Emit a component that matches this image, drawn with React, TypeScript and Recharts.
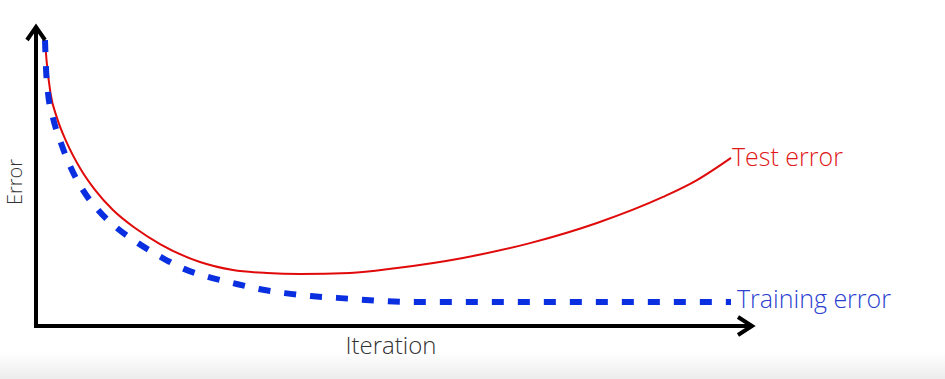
import React from 'react';
import { LineChart, Line, XAxis, YAxis, ReferenceDot } from 'recharts';

// Iteration (0-100 scale) and error (0-100 scale)
const testIter = [1.26, 1.47, 2.03, 2.94, 4.34, 6.16, 8.26, 10.78, 13.87, 17.37, 22.97, 27.59, 32.35, 36.97, 43.98, 50.56, 59.8, 69.19, 78.57, 87.82, 92.58, 97.34];
const testErr = [96.6, 89.9, 78.7, 70.3, 61.8, 53.4, 46.0, 39.2, 33.1, 27.7, 21.6, 18.9, 17.9, 17.6, 17.9, 19.6, 23.0, 28.0, 34.8, 43.6, 49.3, 56.8];

const trainIter = [1.26, 1.4, 1.68, 2.38, 3.5, 4.9, 6.58, 8.68, 11.34, 14.29, 17.51, 20.73, 24.09, 27.59, 31.23, 34.87, 38.52, 42.16, 52.8, 64.57, 97.34];
const trainErr = [96.6, 87.2, 78.7, 70.3, 61.8, 53.4, 45.9, 39.2, 33.1, 28.0, 23.3, 19.3, 16.6, 14.5, 12.5, 11.1, 10.1, 9.5, 8.1, 8.1, 8.1];

const seriesNames = ['Test error', 'Training error'];
const xTitle = 'Iteration';
const yTitle = 'Error';

const testData = testIter.map((x, i) => ({ iter: x, err: testErr[i] }));
const trainData = trainIter.map((x, i) => ({ iter: x, err: trainErr[i] }));

const FONT = '"Open Sans", Lato, sans-serif';
const RED = '#e00a0a';
const BLUE = '#0a2fe0';

const endLabel = (text: string, color: string, dx: number, dy: number, lastIndex: number) => (props: any) => {
  if (props.index !== lastIndex) return null;
  return (
    <text x={props.x + dx} y={props.y + dy} fill={color} fontSize={25} fontFamily={FONT} fontWeight={300}>
      {text}
    </text>
  );
};

const UpArrow = (props: any) => {
  const { cx, cy } = props;
  return (
    <polyline
      points={`${cx - 9},${cy + 10} ${cx},${cy - 3} ${cx + 9},${cy + 10}`}
      fill="none"
      stroke="#000"
      strokeWidth={4}
    />
  );
};

const RightArrow = (props: any) => {
  const { cx, cy } = props;
  return (
    <polyline
      points={`${cx - 12},${cy - 9} ${cx + 2},${cy} ${cx - 12},${cy + 9}`}
      fill="none"
      stroke="#000"
      strokeWidth={4}
    />
  );
};

export default function App() {
  return (
    <div
      style={{
        position: 'absolute',
        left: 0,
        top: 0,
        width: 945,
        height: 379,
        background: 'linear-gradient(to bottom, #ffffff 0px, #ffffff 352px, #ececec 379px)',
      }}
    >
      <LineChart width={945} height={379} margin={{ top: 30, right: 195, bottom: 0, left: 0 }}>
        <XAxis
          type="number"
          dataKey="iter"
          domain={[0, 100]}
          allowDataOverflow
          height={53}
          tick={false}
          tickLine={false}
          axisLine={{ stroke: '#000', strokeWidth: 4, strokeLinecap: 'square' } as any}
          label={{
            content: (p: any) => {
              const vb = p.viewBox;
              return (
                <text x={vb.x + vb.width / 2 - 2} y={vb.y + 28} textAnchor="middle" fill="#333" fontSize={24} fontFamily={FONT} fontWeight={300}>
                  {xTitle}
                </text>
              );
            },
          }}
        />
        <YAxis
          type="number"
          dataKey="err"
          domain={[0, 100]}
          allowDataOverflow
          width={36}
          tick={false}
          tickLine={false}
          axisLine={{ stroke: '#000', strokeWidth: 4, strokeLinecap: 'square' } as any}
          label={{
            content: (p: any) => {
              const vb = p.viewBox;
              const cx = vb.x + 22;
              const cy = vb.y + vb.height / 2 + 4;
              return (
                <text x={cx} y={cy} transform={`rotate(-90, ${cx}, ${cy})`} textAnchor="middle" fill="#333" fontSize={20} fontFamily={FONT} fontWeight={300}>
                  {yTitle}
                </text>
              );
            },
          }}
        />
        <ReferenceDot x={0} y={100} r={0} ifOverflow="visible" shape={UpArrow} />
        <ReferenceDot x={100} y={0} r={0} ifOverflow="visible" shape={RightArrow} />
        <Line
          data={testData}
          dataKey="err"
          type="monotone"
          stroke={RED}
          strokeWidth={2}
          dot={false}
          activeDot={false}
          isAnimationActive={false}
          label={endLabel(seriesNames[0], '#e01818', 1, 8, testData.length - 1)}
        />
        <Line
          data={trainData}
          dataKey="err"
          type="monotone"
          stroke={BLUE}
          strokeWidth={6}
          strokeDasharray="12 14"
          dot={false}
          activeDot={false}
          isAnimationActive={false}
          label={endLabel(seriesNames[1], '#2a3fd0', 6, 6, trainData.length - 1)}
        />
      </LineChart>
    </div>
  );
}
